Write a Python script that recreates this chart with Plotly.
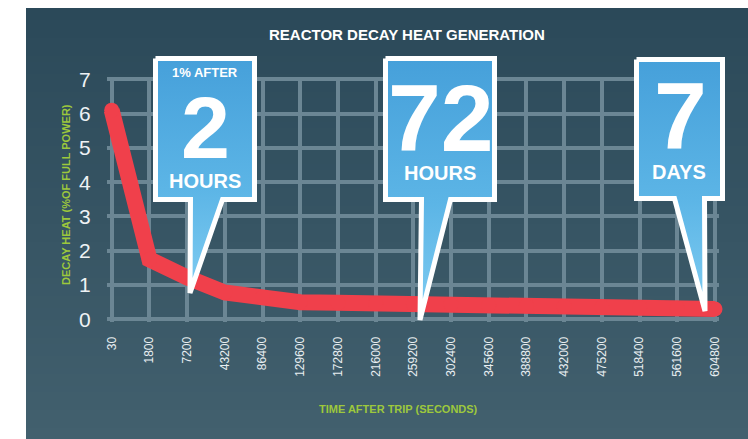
import plotly.graph_objects as go

# ---------------- data ----------------
time_labels = ["30", "1800", "7200", "43200", "86400", "129600", "172800", "216000",
               "259200", "302400", "345600", "388800", "432000", "475200", "518400",
               "561600", "604800"]
decay_heat = [6.1, 1.75, 1.22, 0.78, 0.64, 0.5, 0.48, 0.46, 0.45, 0.43, 0.41,
              0.39, 0.37, 0.36, 0.34, 0.32, 0.30]
y_ticks = [0, 1, 2, 3, 4, 5, 6, 7]

title_text = "REACTOR DECAY HEAT GENERATION"
y_title = "DECAY HEAT (%OF FULL POWER)"
x_title = "TIME AFTER TRIP (SECONDS)"

W, H = 748, 439
def fx(p):
    return p / W
def fy(p):
    return 1 - p / H

cx0, cx1 = 111.7, 715.0
vy0, vy7 = 319.3, 79.3
n = len(time_labels) - 1
sx = (cx1 - cx0) / n
sy = (vy0 - vy7) / 7.0

def xrange_for(left_px, right_px):
    return [-(cx0 - left_px) / sx, n + (right_px - cx1) / sx]
def yrange_for(top_px, bottom_px):
    return [-(bottom_px - vy0) / sy, 7 + (vy7 - top_px) / sy]

grid_col = "#6b8694"
red = "#f0404b"
green = "#9dc83c"
FONT = "Liberation Sans"

fig = go.Figure()

fig.add_trace(go.Scatter(x=time_labels, y=decay_heat, mode="lines",
                         line=dict(color="rgba(0,0,0,0)", width=1),
                         hoverinfo="skip", showlegend=False, xaxis="x", yaxis="y"))
fig.add_trace(go.Scatter(x=time_labels, y=decay_heat, mode="lines+markers",
                         line=dict(color=red, width=16, shape="linear"),
                         marker=dict(color=red, size=15, line=dict(width=0)),
                         showlegend=False, xaxis="x2", yaxis="y2"))

callouts = [
    dict(box=(153, 257, 56, 202), base=(188, 225), tip=(190, 296)),
    dict(box=(383, 497, 56, 202), base=(419, 453), tip=(420, 323)),
    dict(box=(634, 725, 57, 201), base=(672, 707), tip=(705, 314)),
]
bw = 5.0
for c in callouts:
    l, r, t, b = c["box"]
    h = bw / 2
    l, r, t, b = l + h, r - h, t + h, b - h
    bl, br = c["base"]
    tx, ty = c["tip"]
    xs = [l, r, r, br - h, tx, bl + h, l, l]
    ys = [t, t, b, b, ty - 3, b, b, t]
    fig.add_trace(go.Scatter(
        x=xs, y=ys, mode="lines", fill="toself",
        fillgradient=dict(type="vertical",
                          colorscale=[[0, "#46a0da"], [0.55, "#5cb5e6"], [1, "#80cdf2"]],
                          start=t, stop=ty),
        line=dict(color="white", width=bw),
        hoverinfo="skip", showlegend=False, xaxis="x3", yaxis="y3"))

# background panel: vertical gradient built from integer-pixel bands
shapes = []
top_col = (0x2b, 0x49, 0x59)
bot_col = (0x42, 0x60, 0x6e)
y_start, y_end = 8, H
step = 6
edges = list(range(y_start, y_end, step)) + [y_end]
for i in range(len(edges) - 1):
    t0, t1 = edges[i], edges[i + 1]
    f = ((t0 + t1) / 2 - y_start) / (y_end - y_start)
    col = tuple(int(round(a + (b - a) * f)) for a, b in zip(top_col, bot_col))
    shapes.append(dict(type="rect", xref="paper", yref="paper",
                       x0=fx(26), x1=1.0, y0=fy(min(t1 + 2, H)), y1=fy(t0),
                       fillcolor="rgb(%d,%d,%d)" % col, line=dict(width=0),
                       layer="below"))

def ann(text, x, y, size, color="white", angle=0):
    return dict(text=text, x=fx(x), y=fy(y), xref="paper", yref="paper",
                showarrow=False, textangle=angle,
                font=dict(family=FONT, size=size, color=color),
                xanchor="center", yanchor="middle")

annotations = [
    ann("<b>" + title_text + "</b>", 407, 34, 15),
    ann("<b>" + y_title + "</b>", 66, 195, 11, green, -90),
    ann("<b>" + x_title + "</b>", 398, 409, 11, green),
    ann("<b>1% AFTER</b>", 205, 73, 13),
    ann("<b>2</b>", 205, 128, 88),
    ann("<b>HOURS</b>", 205, 181, 20),
    ann("<b>72</b>", 441, 118, 95),
    ann("<b>HOURS</b>", 440, 173, 20),
    ann("<b>7</b>", 680, 116, 95),
    ann("<b>DAYS</b>", 679, 172, 20),
]

main_l, main_r, main_t, main_b = 107, 719, 77, 322
wide_l, wide_r, wide_t, wide_b = 85, 745, 55, 340

fig.update_layout(
    template="none",
    width=W, height=H,
    margin=dict(l=0, r=0, t=0, b=0, pad=0, autoexpand=False),
    paper_bgcolor="white",
    plot_bgcolor="rgba(0,0,0,0)",
    showlegend=False,
    shapes=shapes,
    annotations=annotations,
    xaxis=dict(domain=[fx(main_l), fx(main_r)], type="category",
               categoryorder="array", categoryarray=time_labels,
               range=xrange_for(main_l, main_r), automargin=False,
               showgrid=True, gridcolor=grid_col, gridwidth=4,
               zeroline=False, showline=False,
               ticks="outside", ticklen=9, tickcolor="rgba(0,0,0,0)",
               tickangle=-90,
               tickfont=dict(family=FONT, size=12, color="#e8eef1"),
               anchor="y", fixedrange=True),
    yaxis=dict(domain=[fy(main_b), fy(main_t)],
               range=yrange_for(main_t, main_b), automargin=False,
               tickmode="array", tickvals=y_ticks, ticktext=[str(v) for v in y_ticks],
               showgrid=True, gridcolor=grid_col, gridwidth=4,
               zeroline=False, showline=False,
               ticks="outside", ticklen=11, tickcolor="rgba(0,0,0,0)",
               tickfont=dict(family=FONT, size=21, color="#eef2f4"),
               anchor="x", fixedrange=True),
    xaxis2=dict(domain=[fx(wide_l), fx(wide_r)], type="category",
                categoryorder="array", categoryarray=time_labels,
                range=xrange_for(wide_l, wide_r), visible=False, automargin=False,
                anchor="y2", fixedrange=True),
    yaxis2=dict(domain=[fy(wide_b), fy(wide_t)],
                range=yrange_for(wide_t, wide_b), visible=False, automargin=False,
                anchor="x2", fixedrange=True),
    xaxis3=dict(domain=[0, 1], range=[0, W], visible=False, anchor="y3",
                automargin=False, fixedrange=True),
    yaxis3=dict(domain=[0, 1], range=[H, 0], visible=False, anchor="x3",
                automargin=False, fixedrange=True),
)

fig.write_html("out.html", config={"displayModeBar": False},
               post_script="document.body.style.margin='0';document.body.style.overflow='hidden';")
